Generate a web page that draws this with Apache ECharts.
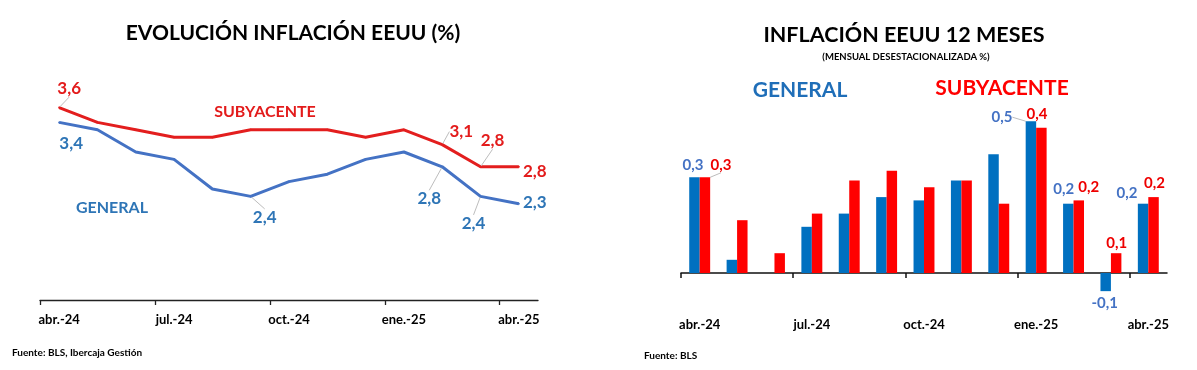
<!DOCTYPE html>
<html>
<head>
<meta charset="utf-8">
<script src="https://cdn.jsdelivr.net/npm/echarts@6/dist/echarts.min.js"></script>
<style>
html,body{margin:0;padding:0;background:#fff;}
#c{width:1197px;height:370px;}
</style>
</head>
<body>
<div id="c"></div>
<script>
// ---------- DATA ----------
const months = ['abr.-24','may.-24','jun.-24','jul.-24','ago.-24','sep.-24','oct.-24','nov.-24','dic.-24','ene.-25','feb.-25','mar.-25','abr.-25'];
const tickLabelMonths = ['abr.-24','jul.-24','oct.-24','ene.-25','abr.-25'];
// Left: year-on-year inflation (%)
const generalYoY    = [3.4, 3.3, 3.0, 2.9, 2.5, 2.4, 2.6, 2.7, 2.9, 3.0, 2.8, 2.4, 2.3];
const subyacenteYoY = [3.6, 3.4, 3.3, 3.2, 3.2, 3.3, 3.3, 3.3, 3.2, 3.3, 3.1, 2.8, 2.8];
// Right: monthly seasonally adjusted (%)
const generalMoM    = [0.29, 0.04, 0.00, 0.14, 0.18, 0.23, 0.22, 0.28, 0.36, 0.46, 0.21, -0.055, 0.21];
const subyacenteMoM = [0.29, 0.16, 0.06, 0.18, 0.28, 0.31, 0.26, 0.28, 0.21, 0.44, 0.22, 0.06, 0.23];

// ---------- STYLE / LAYOUT ----------
const FONT = 'Lato, "Open Sans", sans-serif';
const C = {
  lineBlue:'#4472C4', lineRed:'#E31E1E', txtBlue:'#2E75B6', txtRed:'#E31B1B',
  barBlue:'#0070C0', barRed:'#FF0000', barTxtBlue:'#4472C4', barTxtRed:'#EE0000'
};
// label placements: [dx, dy from anchor, leaderLine]
const LBL = {
  0: {0:[12,21,false], 5:[14,21,true], 10:[-13,32,true], 11:[-7,27,true], 12:[16,-1,false]},
  1: {0:[10,-19,true], 10:[19,-13,true], 11:[12,-26,true], 12:[16,5,false]},
  2: {0:[-1.5,-12,false], 9:[-29,-4,true], 10:[-4.5,-15,false], 11:[-1,12,false], 12:[-16,-11,false]},
  3: {0:[16,-12,true], 9:[-4.5,-14,false], 10:[10,-13,false], 11:[0.5,-10,false], 12:[1,-14,false]}
};
const SERIES_VALUES = [generalYoY, subyacenteYoY, generalMoM, subyacenteMoM];

function fmt(v){ return v.toFixed(1).replace('.', ','); }
function withLabels(values, sIdx){
  return values.map((v,i)=>{
    const c = LBL[sIdx][i];
    if(!c) return v;
    return {value:v, label:{show:true}, labelLine:{show:c[2]}};
  });
}
function layoutFn(p){
  const c = LBL[p.seriesIndex] && LBL[p.seriesIndex][p.dataIndex];
  if(!c) return {};
  const r = p.rect, lr = p.labelRect;
  const ax = r.x + r.width/2;
  let ay;
  if(p.seriesIndex < 2){ ay = r.y + r.height/2; }
  else { const v = SERIES_VALUES[p.seriesIndex][p.dataIndex]; ay = v >= 0 ? r.y : r.y + r.height; }
  return {dx: ax + c[0] - (lr.x + lr.width/2), dy: ay + c[1] - (lr.y + lr.height/2)};
}

const chart = echarts.init(document.getElementById('c'), null, {renderer:'canvas'});
const axisLabelStyle = {fontSize:13, fontWeight:'bold', color:'#000', fontFamily:FONT};
const txt = (text, x, y, size, color, align) => ({
  type:'text', x:x, y:y, silent:true,
  style:{text:text, fill:color, font:'bold '+size+'px '+FONT, textAlign:align||'center', textVerticalAlign:'middle'}
});

const option = {
  backgroundColor:'#fff',
  animation:false,
  textStyle:{fontFamily:FONT},
  graphic:[
    txt('EVOLUCIÓN INFLACIÓN EEUU (%)', 293, 33, 21, '#000'),
    txt('SUBYACENTE', 265, 112, 16, C.txtRed),
    txt('GENERAL', 112, 208, 16, C.txtBlue),
    txt('Fuente: BLS, Ibercaja Gestión', 12, 353, 10, '#000', 'left'),
    txt('INFLACIÓN EEUU 12 MESES', 904, 35, 21.5, '#000'),
    txt('(MENSUAL DESESTACIONALIZADA %)', 906, 57, 9.5, '#000'),
    txt('GENERAL', 800, 90, 21, '#1F6EB8'),
    txt('SUBYACENTE', 1002, 88, 21, '#FF0000'),
    txt('Fuente: BLS', 644, 356, 10, '#000', 'left')
  ],
  grid:[
    {left:40, right:659, top:78, bottom:70},
    {left:681, right:30, top:108, bottom:64}
  ],
  xAxis:[
    {gridIndex:0, type:'category', data:months, boundaryGap:true,
     axisLine:{show:false, onZero:false}, axisTick:{show:false},
     axisLabel:Object.assign({interval:2, margin:13}, axisLabelStyle)},
    {gridIndex:0, type:'value', min:0, max:13, position:'bottom',
     axisLine:{show:true, onZero:false, lineStyle:{color:'#222', width:1.3}},
     axisTick:{show:true, customValues:[0,3,6,9,12], length:5, lineStyle:{color:'#222', width:1.3}},
     axisLabel:{show:false}, splitLine:{show:false}},
    {gridIndex:1, type:'category', data:months, boundaryGap:true,
     axisLine:{show:false, onZero:false}, axisTick:{show:false},
     axisLabel:Object.assign({interval:2, margin:12}, axisLabelStyle)},
    {gridIndex:1, type:'value', min:0, max:13, position:'bottom',
     axisLine:{show:true, onZero:true, lineStyle:{color:'#111', width:1.5}},
     axisTick:{show:true, customValues:[0,3,6,9,12], length:5, lineStyle:{color:'#111', width:1.5}},
     axisLabel:{show:false}, splitLine:{show:false}}
  ],
  yAxis:[
    {gridIndex:0, type:'value', min:1, max:4, show:false, splitLine:{show:false}},
    {gridIndex:1, type:'value', min:-0.1, max:0.5, show:false, splitLine:{show:false}}
  ],
  series:[
    {name:'GENERAL', type:'line', xAxisIndex:0, yAxisIndex:0, data:withLabels(generalYoY,0),
     color:C.lineBlue, lineStyle:{width:3, color:C.lineBlue}, symbol:'circle', symbolSize:2, showSymbol:true,
     label:{show:false, position:'inside', fontSize:17, fontWeight:'bold', color:C.txtBlue, fontFamily:FONT, formatter:p=>fmt(p.value)},
     labelLine:{show:false, lineStyle:{color:'#bdbdbd', width:1}}, labelLayout:layoutFn, z:3},
    {name:'SUBYACENTE', type:'line', xAxisIndex:0, yAxisIndex:0, data:withLabels(subyacenteYoY,1),
     color:C.lineRed, lineStyle:{width:3, color:C.lineRed}, symbol:'circle', symbolSize:2, showSymbol:true,
     label:{show:false, position:'inside', fontSize:17, fontWeight:'bold', color:C.txtRed, fontFamily:FONT, formatter:p=>fmt(p.value)},
     labelLine:{show:false, lineStyle:{color:'#bdbdbd', width:1}}, labelLayout:layoutFn, z:3},
    {name:'GENERAL m/m', type:'bar', xAxisIndex:2, yAxisIndex:1, data:withLabels(generalMoM,2),
     barWidth:'28%', barGap:'0%', itemStyle:{color:C.barBlue},
     label:{show:false, position:'inside', fontSize:15, fontWeight:'bold', color:C.barTxtBlue, fontFamily:FONT, formatter:p=>fmt(p.value)},
     labelLine:{show:false, lineStyle:{color:'#bdbdbd', width:1}}, labelLayout:layoutFn},
    {name:'SUBYACENTE m/m', type:'bar', xAxisIndex:2, yAxisIndex:1, data:withLabels(subyacenteMoM,3),
     barWidth:'28%', barGap:'0%', itemStyle:{color:C.barRed},
     label:{show:false, position:'inside', fontSize:15, fontWeight:'bold', color:C.barTxtRed, fontFamily:FONT, formatter:p=>fmt(p.value)},
     labelLine:{show:false, lineStyle:{color:'#bdbdbd', width:1}}, labelLayout:layoutFn}
  ]
};
chart.setOption(option);
</script>
</body>
</html>
